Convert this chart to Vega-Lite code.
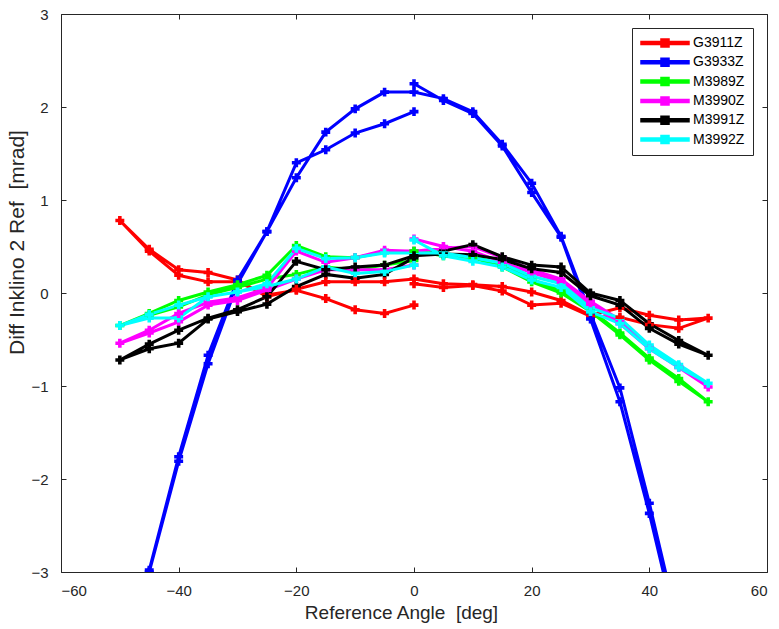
{
  "$schema": "https://vega.github.io/schema/vega-lite/v6.json",
  "autosize": {"type": "none"},
  "width": 706,
  "height": 558,
  "padding": {"left": 61, "top": 14, "right": 12, "bottom": 57},
  "background": "white",
  "config": {
    "font": "Liberation Sans",
    "view": {"stroke": "#262626", "strokeWidth": 1},
    "axis": {"grid": false, "domain": false, "tickColor": "#262626", "tickSize": -5, "labelColor": "#262626", "titleColor": "#262626", "labelFontSize": 15, "titleFontSize": 19, "titleFontWeight": "normal", "labelFont": "Liberation Sans", "titleFont": "Liberation Sans"}
  },
  "data": {"values": [
{"s":"G3911Z","i":0,"x":0,"y":-0.13},{"s":"G3911Z","i":1,"x":-5,"y":-0.22},{"s":"G3911Z","i":2,"x":-10,"y":-0.18},{"s":"G3911Z","i":3,"x":-15,"y":-0.06},{"s":"G3911Z","i":4,"x":-20,"y":0.03},{"s":"G3911Z","i":5,"x":-25,"y":-0.02},{"s":"G3911Z","i":6,"x":-30,"y":0.12},{"s":"G3911Z","i":7,"x":-35,"y":0.12},{"s":"G3911Z","i":8,"x":-40,"y":0.19},{"s":"G3911Z","i":9,"x":-45,"y":0.45},{"s":"G3911Z","i":10,"x":-50,"y":0.78},
{"s":"G3911Z","i":11,"x":-45,"y":0.47},{"s":"G3911Z","i":12,"x":-40,"y":0.25},{"s":"G3911Z","i":13,"x":-35,"y":0.22},{"s":"G3911Z","i":14,"x":-30,"y":0.14},{"s":"G3911Z","i":15,"x":-25,"y":-0.04},{"s":"G3911Z","i":16,"x":-20,"y":0.04},{"s":"G3911Z","i":17,"x":-15,"y":0.12},{"s":"G3911Z","i":18,"x":-10,"y":0.12},{"s":"G3911Z","i":19,"x":-5,"y":0.12},{"s":"G3911Z","i":20,"x":0,"y":0.15},{"s":"G3911Z","i":21,"x":5,"y":0.10},{"s":"G3911Z","i":22,"x":10,"y":0.09},{"s":"G3911Z","i":23,"x":15,"y":0.07},{"s":"G3911Z","i":24,"x":20,"y":0.01},{"s":"G3911Z","i":25,"x":25,"y":-0.08},{"s":"G3911Z","i":26,"x":30,"y":-0.24},{"s":"G3911Z","i":27,"x":35,"y":-0.16},{"s":"G3911Z","i":28,"x":40,"y":-0.24},{"s":"G3911Z","i":29,"x":45,"y":-0.29},{"s":"G3911Z","i":30,"x":50,"y":-0.27},
{"s":"G3911Z","i":31,"x":45,"y":-0.38},{"s":"G3911Z","i":32,"x":40,"y":-0.34},{"s":"G3911Z","i":33,"x":35,"y":-0.26},{"s":"G3911Z","i":34,"x":30,"y":-0.25},{"s":"G3911Z","i":35,"x":25,"y":-0.11},{"s":"G3911Z","i":36,"x":20,"y":-0.13},{"s":"G3911Z","i":37,"x":15,"y":0.02},{"s":"G3911Z","i":38,"x":10,"y":0.08},{"s":"G3911Z","i":39,"x":5,"y":0.06},{"s":"G3911Z","i":40,"x":0,"y":0.10},

{"s":"G3933Z","i":0,"x":0,"y":1.95},{"s":"G3933Z","i":1,"x":-5,"y":1.82},{"s":"G3933Z","i":2,"x":-10,"y":1.72},{"s":"G3933Z","i":3,"x":-15,"y":1.54},{"s":"G3933Z","i":4,"x":-20,"y":1.40},{"s":"G3933Z","i":5,"x":-25,"y":0.66},{"s":"G3933Z","i":6,"x":-30,"y":0.10},{"s":"G3933Z","i":7,"x":-35,"y":-0.76},{"s":"G3933Z","i":8,"x":-40,"y":-1.81},{"s":"G3933Z","i":9,"x":-45,"y":-3.0},{"s":"G3933Z","i":10,"x":-50,"y":-4.3},
{"s":"G3933Z","i":11,"x":-45,"y":-2.98},{"s":"G3933Z","i":12,"x":-40,"y":-1.76},{"s":"G3933Z","i":13,"x":-35,"y":-0.67},{"s":"G3933Z","i":14,"x":-30,"y":0.14},{"s":"G3933Z","i":15,"x":-25,"y":0.66},{"s":"G3933Z","i":16,"x":-20,"y":1.24},{"s":"G3933Z","i":17,"x":-15,"y":1.73},{"s":"G3933Z","i":18,"x":-10,"y":1.98},{"s":"G3933Z","i":19,"x":-5,"y":2.16},{"s":"G3933Z","i":20,"x":0,"y":2.16},{"s":"G3933Z","i":21,"x":5,"y":2.09},{"s":"G3933Z","i":22,"x":10,"y":1.95},{"s":"G3933Z","i":23,"x":15,"y":1.60},{"s":"G3933Z","i":24,"x":20,"y":1.18},{"s":"G3933Z","i":25,"x":25,"y":0.61},{"s":"G3933Z","i":26,"x":30,"y":-0.22},{"s":"G3933Z","i":27,"x":35,"y":-1.02},{"s":"G3933Z","i":28,"x":40,"y":-2.26},{"s":"G3933Z","i":29,"x":45,"y":-3.6},{"s":"G3933Z","i":30,"x":50,"y":-4.9},
{"s":"G3933Z","i":31,"x":45,"y":-3.7},{"s":"G3933Z","i":32,"x":40,"y":-2.37},{"s":"G3933Z","i":33,"x":35,"y":-1.17},{"s":"G3933Z","i":34,"x":30,"y":-0.28},{"s":"G3933Z","i":35,"x":25,"y":0.60},{"s":"G3933Z","i":36,"x":20,"y":1.08},{"s":"G3933Z","i":37,"x":15,"y":1.58},{"s":"G3933Z","i":38,"x":10,"y":1.93},{"s":"G3933Z","i":39,"x":5,"y":2.07},{"s":"G3933Z","i":40,"x":0,"y":2.25},

{"s":"M3989Z","i":0,"x":0,"y":0.35},{"s":"M3989Z","i":1,"x":-5,"y":0.30},{"s":"M3989Z","i":2,"x":-10,"y":0.25},{"s":"M3989Z","i":3,"x":-15,"y":0.28},{"s":"M3989Z","i":4,"x":-20,"y":0.20},{"s":"M3989Z","i":5,"x":-25,"y":0.15},{"s":"M3989Z","i":6,"x":-30,"y":0.06},{"s":"M3989Z","i":7,"x":-35,"y":-0.02},{"s":"M3989Z","i":8,"x":-40,"y":-0.15},{"s":"M3989Z","i":9,"x":-45,"y":-0.24},{"s":"M3989Z","i":10,"x":-50,"y":-0.35},
{"s":"M3989Z","i":11,"x":-45,"y":-0.22},{"s":"M3989Z","i":12,"x":-40,"y":-0.08},{"s":"M3989Z","i":13,"x":-35,"y":0.01},{"s":"M3989Z","i":14,"x":-30,"y":0.09},{"s":"M3989Z","i":15,"x":-25,"y":0.19},{"s":"M3989Z","i":16,"x":-20,"y":0.51},{"s":"M3989Z","i":17,"x":-15,"y":0.39},{"s":"M3989Z","i":18,"x":-10,"y":0.38},{"s":"M3989Z","i":19,"x":-5,"y":0.44},{"s":"M3989Z","i":20,"x":0,"y":0.45},{"s":"M3989Z","i":21,"x":5,"y":0.42},{"s":"M3989Z","i":22,"x":10,"y":0.40},{"s":"M3989Z","i":23,"x":15,"y":0.30},{"s":"M3989Z","i":24,"x":20,"y":0.15},{"s":"M3989Z","i":25,"x":25,"y":0.02},{"s":"M3989Z","i":26,"x":30,"y":-0.18},{"s":"M3989Z","i":27,"x":35,"y":-0.43},{"s":"M3989Z","i":28,"x":40,"y":-0.70},{"s":"M3989Z","i":29,"x":45,"y":-0.92},{"s":"M3989Z","i":30,"x":50,"y":-1.17},
{"s":"M3989Z","i":31,"x":45,"y":-0.95},{"s":"M3989Z","i":32,"x":40,"y":-0.72},{"s":"M3989Z","i":33,"x":35,"y":-0.45},{"s":"M3989Z","i":34,"x":30,"y":-0.20},{"s":"M3989Z","i":35,"x":25,"y":0.00},{"s":"M3989Z","i":36,"x":20,"y":0.12},{"s":"M3989Z","i":37,"x":15,"y":0.28},{"s":"M3989Z","i":38,"x":10,"y":0.38},{"s":"M3989Z","i":39,"x":5,"y":0.40},{"s":"M3989Z","i":40,"x":0,"y":0.45},

{"s":"M3990Z","i":0,"x":0,"y":0.30},{"s":"M3990Z","i":1,"x":-5,"y":0.25},{"s":"M3990Z","i":2,"x":-10,"y":0.25},{"s":"M3990Z","i":3,"x":-15,"y":0.25},{"s":"M3990Z","i":4,"x":-20,"y":0.15},{"s":"M3990Z","i":5,"x":-25,"y":0.03},{"s":"M3990Z","i":6,"x":-30,"y":-0.08},{"s":"M3990Z","i":7,"x":-35,"y":-0.13},{"s":"M3990Z","i":8,"x":-40,"y":-0.31},{"s":"M3990Z","i":9,"x":-45,"y":-0.43},{"s":"M3990Z","i":10,"x":-50,"y":-0.54},
{"s":"M3990Z","i":11,"x":-45,"y":-0.40},{"s":"M3990Z","i":12,"x":-40,"y":-0.22},{"s":"M3990Z","i":13,"x":-35,"y":-0.10},{"s":"M3990Z","i":14,"x":-30,"y":-0.05},{"s":"M3990Z","i":15,"x":-25,"y":0.05},{"s":"M3990Z","i":16,"x":-20,"y":0.45},{"s":"M3990Z","i":17,"x":-15,"y":0.33},{"s":"M3990Z","i":18,"x":-10,"y":0.38},{"s":"M3990Z","i":19,"x":-5,"y":0.46},{"s":"M3990Z","i":20,"x":0,"y":0.45},{"s":"M3990Z","i":21,"x":5,"y":0.48},{"s":"M3990Z","i":22,"x":10,"y":0.50},{"s":"M3990Z","i":23,"x":15,"y":0.38},{"s":"M3990Z","i":24,"x":20,"y":0.25},{"s":"M3990Z","i":25,"x":25,"y":0.15},{"s":"M3990Z","i":26,"x":30,"y":-0.09},{"s":"M3990Z","i":27,"x":35,"y":-0.29},{"s":"M3990Z","i":28,"x":40,"y":-0.58},{"s":"M3990Z","i":29,"x":45,"y":-0.79},{"s":"M3990Z","i":30,"x":50,"y":-1.01},
{"s":"M3990Z","i":31,"x":45,"y":-0.80},{"s":"M3990Z","i":32,"x":40,"y":-0.60},{"s":"M3990Z","i":33,"x":35,"y":-0.33},{"s":"M3990Z","i":34,"x":30,"y":-0.12},{"s":"M3990Z","i":35,"x":25,"y":0.12},{"s":"M3990Z","i":36,"x":20,"y":0.22},{"s":"M3990Z","i":37,"x":15,"y":0.33},{"s":"M3990Z","i":38,"x":10,"y":0.45},{"s":"M3990Z","i":39,"x":5,"y":0.50},{"s":"M3990Z","i":40,"x":0,"y":0.58},

{"s":"M3991Z","i":0,"x":0,"y":0.38},{"s":"M3991Z","i":1,"x":-5,"y":0.20},{"s":"M3991Z","i":2,"x":-10,"y":0.16},{"s":"M3991Z","i":3,"x":-15,"y":0.20},{"s":"M3991Z","i":4,"x":-20,"y":0.07},{"s":"M3991Z","i":5,"x":-25,"y":-0.12},{"s":"M3991Z","i":6,"x":-30,"y":-0.20},{"s":"M3991Z","i":7,"x":-35,"y":-0.28},{"s":"M3991Z","i":8,"x":-40,"y":-0.54},{"s":"M3991Z","i":9,"x":-45,"y":-0.60},{"s":"M3991Z","i":10,"x":-50,"y":-0.72},
{"s":"M3991Z","i":11,"x":-45,"y":-0.55},{"s":"M3991Z","i":12,"x":-40,"y":-0.40},{"s":"M3991Z","i":13,"x":-35,"y":-0.27},{"s":"M3991Z","i":14,"x":-30,"y":-0.18},{"s":"M3991Z","i":15,"x":-25,"y":-0.04},{"s":"M3991Z","i":16,"x":-20,"y":0.34},{"s":"M3991Z","i":17,"x":-15,"y":0.25},{"s":"M3991Z","i":18,"x":-10,"y":0.28},{"s":"M3991Z","i":19,"x":-5,"y":0.30},{"s":"M3991Z","i":20,"x":0,"y":0.40},{"s":"M3991Z","i":21,"x":5,"y":0.45},{"s":"M3991Z","i":22,"x":10,"y":0.52},{"s":"M3991Z","i":23,"x":15,"y":0.39},{"s":"M3991Z","i":24,"x":20,"y":0.30},{"s":"M3991Z","i":25,"x":25,"y":0.28},{"s":"M3991Z","i":26,"x":30,"y":0.00},{"s":"M3991Z","i":27,"x":35,"y":-0.08},{"s":"M3991Z","i":28,"x":40,"y":-0.33},{"s":"M3991Z","i":29,"x":45,"y":-0.51},{"s":"M3991Z","i":30,"x":50,"y":-0.67},
{"s":"M3991Z","i":31,"x":45,"y":-0.55},{"s":"M3991Z","i":32,"x":40,"y":-0.38},{"s":"M3991Z","i":33,"x":35,"y":-0.13},{"s":"M3991Z","i":34,"x":30,"y":-0.03},{"s":"M3991Z","i":35,"x":25,"y":0.22},{"s":"M3991Z","i":36,"x":20,"y":0.26},{"s":"M3991Z","i":37,"x":15,"y":0.36},{"s":"M3991Z","i":38,"x":10,"y":0.41},{"s":"M3991Z","i":39,"x":5,"y":0.42},{"s":"M3991Z","i":40,"x":0,"y":0.40},

{"s":"M3992Z","i":0,"x":0,"y":0.30},{"s":"M3992Z","i":1,"x":-5,"y":0.23},{"s":"M3992Z","i":2,"x":-10,"y":0.21},{"s":"M3992Z","i":3,"x":-15,"y":0.28},{"s":"M3992Z","i":4,"x":-20,"y":0.15},{"s":"M3992Z","i":5,"x":-25,"y":0.07},{"s":"M3992Z","i":6,"x":-30,"y":0.01},{"s":"M3992Z","i":7,"x":-35,"y":-0.04},{"s":"M3992Z","i":8,"x":-40,"y":-0.27},{"s":"M3992Z","i":9,"x":-45,"y":-0.27},{"s":"M3992Z","i":10,"x":-50,"y":-0.35},
{"s":"M3992Z","i":11,"x":-45,"y":-0.23},{"s":"M3992Z","i":12,"x":-40,"y":-0.13},{"s":"M3992Z","i":13,"x":-35,"y":-0.04},{"s":"M3992Z","i":14,"x":-30,"y":0.01},{"s":"M3992Z","i":15,"x":-25,"y":0.10},{"s":"M3992Z","i":16,"x":-20,"y":0.48},{"s":"M3992Z","i":17,"x":-15,"y":0.37},{"s":"M3992Z","i":18,"x":-10,"y":0.38},{"s":"M3992Z","i":19,"x":-5,"y":0.43},{"s":"M3992Z","i":20,"x":0,"y":0.43},{"s":"M3992Z","i":21,"x":5,"y":0.43},{"s":"M3992Z","i":22,"x":10,"y":0.38},{"s":"M3992Z","i":23,"x":15,"y":0.32},{"s":"M3992Z","i":24,"x":20,"y":0.18},{"s":"M3992Z","i":25,"x":25,"y":0.10},{"s":"M3992Z","i":26,"x":30,"y":-0.16},{"s":"M3992Z","i":27,"x":35,"y":-0.27},{"s":"M3992Z","i":28,"x":40,"y":-0.56},{"s":"M3992Z","i":29,"x":45,"y":-0.77},{"s":"M3992Z","i":30,"x":50,"y":-0.97},
{"s":"M3992Z","i":31,"x":45,"y":-0.80},{"s":"M3992Z","i":32,"x":40,"y":-0.60},{"s":"M3992Z","i":33,"x":35,"y":-0.33},{"s":"M3992Z","i":34,"x":30,"y":-0.20},{"s":"M3992Z","i":35,"x":25,"y":0.06},{"s":"M3992Z","i":36,"x":20,"y":0.14},{"s":"M3992Z","i":37,"x":15,"y":0.28},{"s":"M3992Z","i":38,"x":10,"y":0.34},{"s":"M3992Z","i":39,"x":5,"y":0.40},{"s":"M3992Z","i":40,"x":0,"y":0.57}
  ]},
  "encoding": {
    "x": {"field": "x", "type": "quantitative", "scale": {"domain": [-60, 60], "nice": false, "zero": false},
      "axis": {"orient": "bottom", "values": [-60, -40, -20, 0, 20, 40, 60], "title": "Reference Angle\u00a0 [deg]", "labelPadding": 16, "titlePadding": 5, "titleX": 340}},
    "y": {"field": "y", "type": "quantitative", "scale": {"domain": [-3, 3], "nice": false, "zero": false},
      "axis": {"orient": "left", "values": [-3, -2, -1, 0, 1, 2, 3], "title": "Diff Inklino 2 Ref\u00a0 [mrad]", "titleFontSize": 21, "labelPadding": 18, "titlePadding": 3, "titleY": 228}},
    "color": {"field": "s", "type": "nominal",
      "scale": {"domain": ["G3911Z", "G3933Z", "M3989Z", "M3990Z", "M3991Z", "M3992Z"], "range": ["#ff0000", "#0000ff", "#00ff00", "#ff00ff", "#000000", "#00ffff"]},
      "legend": {"title": null, "orient": "none", "legendX": 571, "legendY": 14, "strokeColor": "#262626", "fillColor": "white", "padding": 8, "rowPadding": 3.3,
        "symbolType": "M-1,-0.25H7V0.25H-1Z M2.33,-0.67H3.67V0.67H2.33Z", "symbolSize": 144, "labelOffset": 39, "labelFontSize": 14, "labelColor": "#000000", "labelFont": "Liberation Sans",
        "encode": {"symbols": {"update": {"fill": {"scale": "color", "field": "value"}, "stroke": {"value": "transparent"}, "opacity": {"value": 1}}}}}},
    "order": {"field": "i", "type": "quantitative"}
  },
  "layer": [
    {"mark": {"type": "line", "strokeWidth": 3, "clip": true}},
    {"mark": {"type": "point", "shape": "cross", "filled": true, "size": 80, "opacity": 1, "clip": true},
      "encoding": {
        "x": {"field": "x", "type": "quantitative", "scale": {"domain": [-60, 60], "nice": false, "zero": false}, "axis": null},
        "y": {"field": "y", "type": "quantitative", "scale": {"domain": [-3, 3], "nice": false, "zero": false}, "axis": null}
      }},
    {"mark": {"type": "point", "opacity": 0, "clip": true},
      "encoding": {
        "x": {"field": "x", "type": "quantitative", "scale": {"domain": [-60, 60], "nice": false, "zero": false},
          "axis": {"orient": "top", "values": [-60, -40, -20, 0, 20, 40, 60], "labels": false, "title": null}},
        "y": {"field": "y", "type": "quantitative", "scale": {"domain": [-3, 3], "nice": false, "zero": false},
          "axis": {"orient": "right", "values": [-3, -2, -1, 0, 1, 2, 3], "labels": false, "title": null}}
      }}
  ],
  "resolve": {"axis": {"x": "independent", "y": "independent"}}
}
